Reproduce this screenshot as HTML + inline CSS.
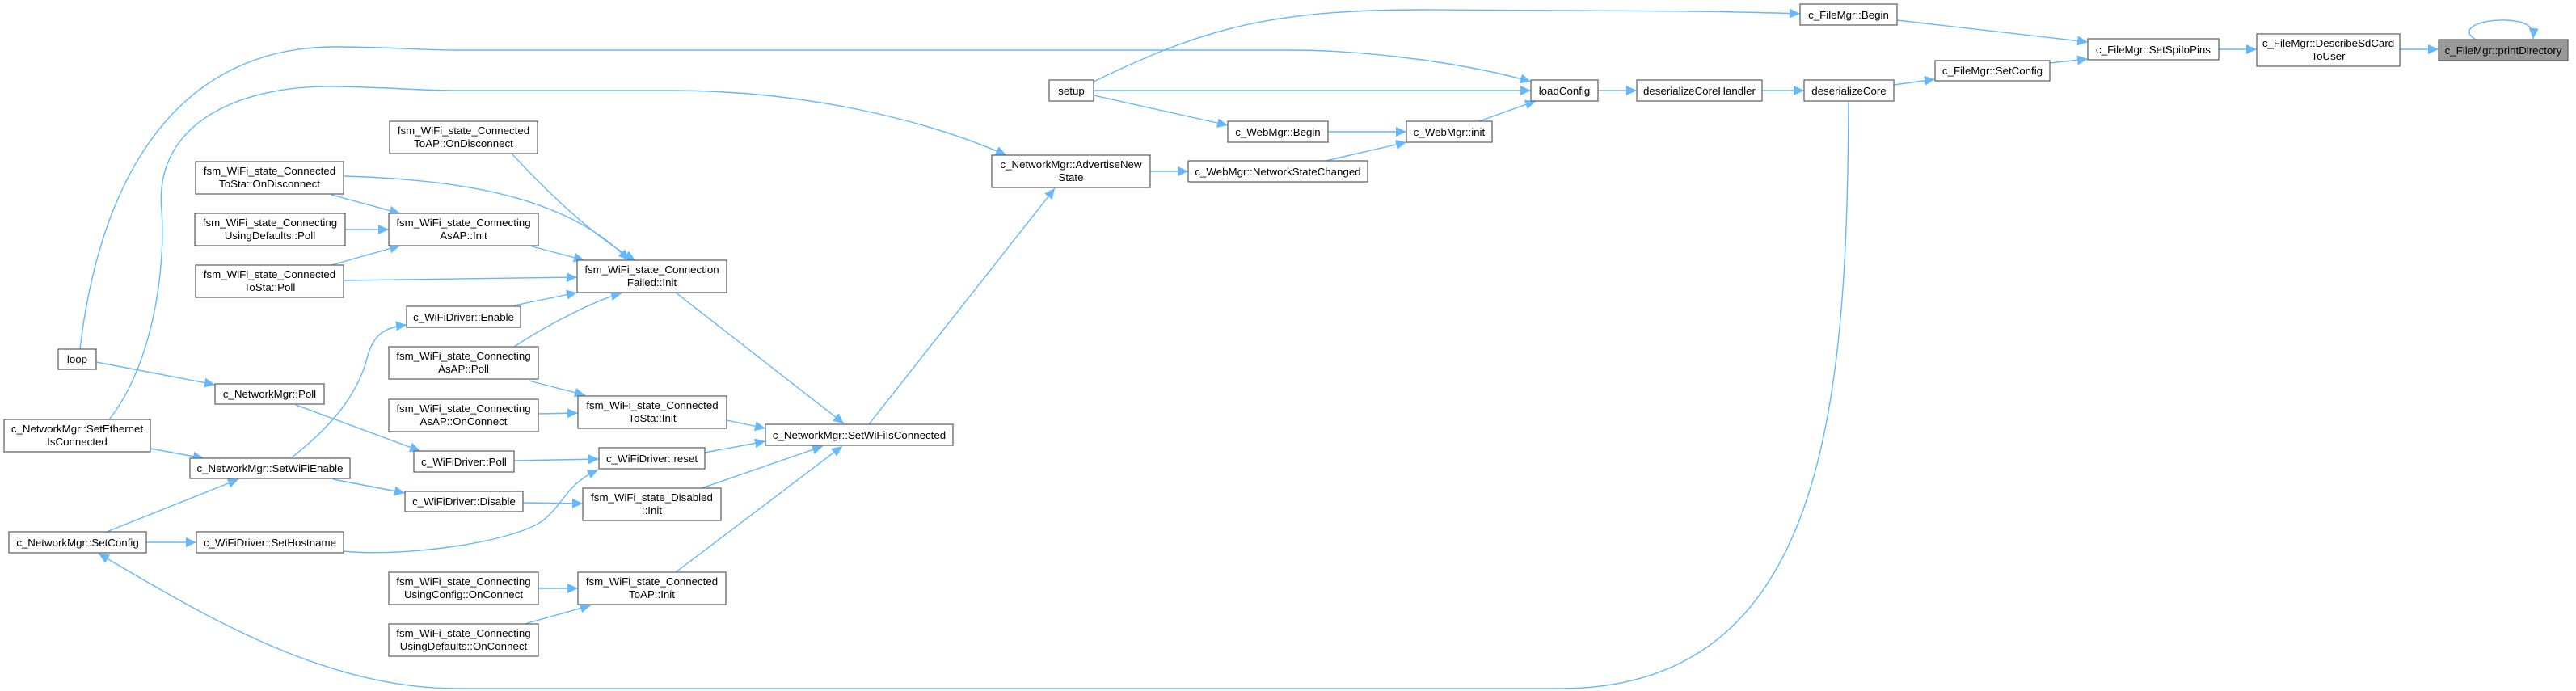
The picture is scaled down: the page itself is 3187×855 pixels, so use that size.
<!DOCTYPE html>
<html><head><meta charset="utf-8"><style>
html,body{margin:0;padding:0;background:#fff;}
svg{display:block;}
text{font-family:"Liberation Sans",Helvetica,Arial,sans-serif;font-size:13.3px;fill:#000;text-anchor:middle;}
.n{fill:#fff;stroke:#666;stroke-width:1.3;}
.g{fill:#999;stroke:#666;stroke-width:1.3;}
.e{fill:none;stroke:#63b8ff;stroke-width:1.4;marker-end:url(#a);}
</style></head><body>
<svg width="3187" height="855" viewBox="0 0 3187 855" xmlns="http://www.w3.org/2000/svg">
<defs><marker id="a" markerUnits="userSpaceOnUse" markerWidth="14" markerHeight="12" refX="13" refY="6" orient="auto"><path d="M0,0 L13,6 L0,12 z" fill="#63b8ff"/></marker></defs>

<!-- edges -->
<path class="e" d="M1353,101 C1480,40 1560,12 1760,12 L2100,14 C2160,15 2200,16 2227,17"/>
<path class="e" d="M1353,112 L1894,112"/>
<path class="e" d="M1353,118 L1519,155"/>
<path class="e" d="M99,432 C120,250 200,58 415,58 C480,58 520,62 564,62 L1595,62 C1700,62 1820,80 1894,101"/>
<path class="e" d="M1643,163 L1740,163"/>
<path class="e" d="M1640,199 L1740,176"/>
<path class="e" d="M1830,150 L1900,125"/>
<path class="e" d="M1423,212 L1470,212"/>
<path class="e" d="M1977,112 L2025,112"/>
<path class="e" d="M2180,112 L2232,112"/>
<path class="e" d="M2343,105 L2394,98"/>
<path class="e" d="M2347,25 L2583,52"/>
<path class="e" d="M2536,78 L2583,73"/>
<path class="e" d="M2745,61 L2792,61"/>
<path class="e" d="M2969,61 L3017,61"/>
<path class="e" d="M3063,49 C3040,35 3070,24 3100,25 C3125,26 3135,32 3134,48"/>
<path class="e" d="M2287,125 C2285,500 2260,852 1930,852 L566,852 C400,852 250,760 122,685"/>
<path class="e" d="M135,519 C190,450 205,330 200,260 C190,150 300,105 415,107 C480,108 520,112 564,112 L830,112 C1000,112 1150,150 1245,192"/>
<path class="e" d="M1075,525 L1305,233"/>
<path class="e" d="M836,362 L1044,524"/>
<path class="e" d="M899,520 L947,530"/>
<path class="e" d="M872,560 L947,546"/>
<path class="e" d="M868,604 L1018,552"/>
<path class="e" d="M836,708 L1042,552"/>
<path class="e" d="M633,190 C670,230 730,290 786,322"/>
<path class="e" d="M425,218 C560,222 700,240 778,322"/>
<path class="e" d="M410,241 L495,264"/>
<path class="e" d="M427,284 L481,284"/>
<path class="e" d="M410,328 L495,304"/>
<path class="e" d="M658,305 L723,322"/>
<path class="e" d="M425,347 L714,343"/>
<path class="e" d="M636,378 L714,362"/>
<path class="e" d="M636,429 C680,400 740,370 769,363"/>
<path class="e" d="M654,471 L724,489"/>
<path class="e" d="M666,512 L715,511"/>
<path class="e" d="M119,448 L266,476"/>
<path class="e" d="M366,501 L520,558"/>
<path class="e" d="M186,555 L252,567"/>
<path class="e" d="M361,566 C420,520 445,480 455,440 C462,415 475,405 503,402"/>
<path class="e" d="M412,593 L501,610"/>
<path class="e" d="M636,570 L741,568"/>
<path class="e" d="M647,622 L721,623"/>
<path class="e" d="M132,658 L295,593"/>
<path class="e" d="M181,671 L243,671"/>
<path class="e" d="M425,682 C500,690 640,670 673,643 C700,620 700,600 740,581"/>
<path class="e" d="M666,728 L715,728"/>
<path class="e" d="M649,772 L731,749"/>

<!-- nodes -->
<rect class="n" x="1298" y="99" width="55" height="26"/><text x="1325.5" y="117">setup</text>
<rect class="n" x="1894" y="99" width="83" height="26"/><text x="1935.5" y="117">loadConfig</text>
<rect class="n" x="2025" y="99" width="155" height="26"/><text x="2102.5" y="117">deserializeCoreHandler</text>
<rect class="n" x="2232" y="99" width="111" height="26"/><text x="2287.5" y="117">deserializeCore</text>
<rect class="n" x="2394" y="75" width="142" height="25"/><text x="2465" y="92">c_FileMgr::SetConfig</text>
<rect class="n" x="2227" y="5" width="120" height="26"/><text x="2287" y="23">c_FileMgr::Begin</text>
<rect class="n" x="2583" y="48" width="162" height="26"/><text x="2664" y="66">c_FileMgr::SetSpiIoPins</text>
<rect class="n" x="2792" y="42" width="177" height="40"/><text x="2880.5" y="58">c_FileMgr::DescribeSdCard</text><text x="2880.5" y="74">ToUser</text>
<rect class="g" x="3017" y="49" width="160" height="26"/><text x="3097" y="67">c_FileMgr::printDirectory</text>
<rect class="n" x="1519" y="150" width="124" height="26"/><text x="1581" y="168">c_WebMgr::Begin</text>
<rect class="n" x="1740" y="150" width="106" height="26"/><text x="1793" y="168">c_WebMgr::init</text>
<rect class="n" x="1227" y="192" width="196" height="40"/><text x="1325" y="208">c_NetworkMgr::AdvertiseNew</text><text x="1325" y="224">State</text>
<rect class="n" x="1470" y="199" width="222" height="26"/><text x="1581" y="217">c_WebMgr::NetworkStateChanged</text>
<rect class="n" x="947" y="525" width="232" height="26"/><text x="1063" y="543">c_NetworkMgr::SetWiFiIsConnected</text>
<rect class="n" x="482" y="150" width="183" height="40"/><text x="573.5" y="166">fsm_WiFi_state_Connected</text><text x="573.5" y="182">ToAP::OnDisconnect</text>
<rect class="n" x="242" y="200" width="183" height="40"/><text x="333.5" y="216">fsm_WiFi_state_Connected</text><text x="333.5" y="232">ToSta::OnDisconnect</text>
<rect class="n" x="481" y="264" width="185" height="40"/><text x="573.5" y="280">fsm_WiFi_state_Connecting</text><text x="573.5" y="296">AsAP::Init</text>
<rect class="n" x="241" y="264" width="186" height="40"/><text x="334" y="280">fsm_WiFi_state_Connecting</text><text x="334" y="296">UsingDefaults::Poll</text>
<rect class="n" x="242" y="328" width="183" height="40"/><text x="333.5" y="344">fsm_WiFi_state_Connected</text><text x="333.5" y="360">ToSta::Poll</text>
<rect class="n" x="714" y="322" width="185" height="40"/><text x="806.5" y="338">fsm_WiFi_state_Connection</text><text x="806.5" y="354">Failed::Init</text>
<rect class="n" x="503" y="379" width="141" height="26"/><text x="573.5" y="397">c_WiFiDriver::Enable</text>
<rect class="n" x="481" y="429" width="185" height="40"/><text x="573.5" y="445">fsm_WiFi_state_Connecting</text><text x="573.5" y="461">AsAP::Poll</text>
<rect class="n" x="72" y="432" width="47" height="25"/><text x="95.5" y="449">loop</text>
<rect class="n" x="266" y="475" width="135" height="25"/><text x="333.5" y="492">c_NetworkMgr::Poll</text>
<rect class="n" x="715" y="490" width="184" height="40"/><text x="807" y="506">fsm_WiFi_state_Connected</text><text x="807" y="522">ToSta::Init</text>
<rect class="n" x="481" y="494" width="185" height="40"/><text x="573.5" y="510">fsm_WiFi_state_Connecting</text><text x="573.5" y="526">AsAP::OnConnect</text>
<rect class="n" x="5" y="519" width="181" height="40"/><text x="95.5" y="535">c_NetworkMgr::SetEthernet</text><text x="95.5" y="551">IsConnected</text>
<rect class="n" x="235" y="567" width="198" height="25"/><text x="334" y="584">c_NetworkMgr::SetWiFiEnable</text>
<rect class="n" x="512" y="558" width="124" height="26"/><text x="574" y="576">c_WiFiDriver::Poll</text>
<rect class="n" x="741" y="554" width="131" height="26"/><text x="806.5" y="572">c_WiFiDriver::reset</text>
<rect class="n" x="501" y="608" width="146" height="25"/><text x="574" y="625">c_WiFiDriver::Disable</text>
<rect class="n" x="721" y="604" width="171" height="40"/><text x="806.5" y="620">fsm_WiFi_state_Disabled</text><text x="806.5" y="636">::Init</text>
<rect class="n" x="11" y="658" width="170" height="26"/><text x="96" y="676">c_NetworkMgr::SetConfig</text>
<rect class="n" x="243" y="658" width="182" height="26"/><text x="334" y="676">c_WiFiDriver::SetHostname</text>
<rect class="n" x="481" y="708" width="185" height="40"/><text x="573.5" y="724">fsm_WiFi_state_Connecting</text><text x="573.5" y="740">UsingConfig::OnConnect</text>
<rect class="n" x="715" y="708" width="183" height="40"/><text x="806.5" y="724">fsm_WiFi_state_Connected</text><text x="806.5" y="740">ToAP::Init</text>
<rect class="n" x="481" y="772" width="185" height="40"/><text x="573.5" y="788">fsm_WiFi_state_Connecting</text><text x="573.5" y="804">UsingDefaults::OnConnect</text>
</svg>
</body></html>
